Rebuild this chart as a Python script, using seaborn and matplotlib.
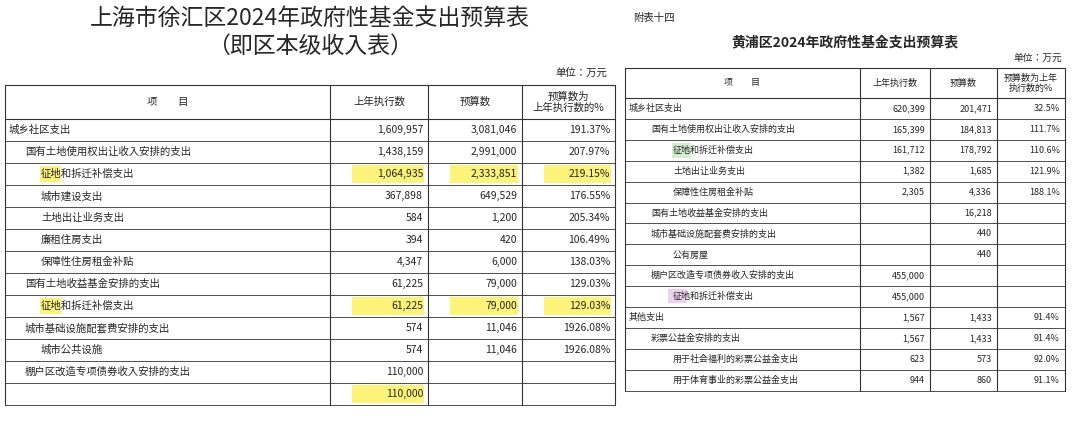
import matplotlib
matplotlib.use('Agg')
from matplotlib import pyplot as plt
from matplotlib import font_manager
from matplotlib.patches import Rectangle
import seaborn as sns

sns.set_theme(style='white')
_names = sorted({f.name for f in font_manager.fontManager.ttflist if 'CJK' in f.name})
plt.rcParams['font.family'] = ['Noto Sans CJK SC'] + _names + ['DejaVu Sans']

# left table: Xuhui
left_items = ['城乡社区支出', '国有土地使用权出让收入安排的支出', '征地和拆迁补偿支出', '城市建设支出',
              '土地出让业务支出', '廉租住房支出', '保障性住房租金补贴', '国有土地收益基金安排的支出',
              '征地和拆迁补偿支出', '城市基础设施配套费安排的支出', '城市公共设施',
              '棚户区改造专项债券收入安排的支出', '']
left_level = [0, 1, 2, 2, 2, 2, 2, 1, 2, 1, 2, 1, 2]
left_prev = ['1,609,957', '1,438,159', '1,064,935', '367,898', '584', '394', '4,347',
             '61,225', '61,225', '574', '574', '110,000', '110,000']
left_budget = ['3,081,046', '2,991,000', '2,333,851', '649,529', '1,200', '420', '6,000',
               '79,000', '79,000', '11,046', '11,046', '', '']
left_pct = ['191.37%', '207.97%', '219.15%', '176.55%', '205.34%', '106.49%', '138.03%',
            '129.03%', '129.03%', '1926.08%', '1926.08%', '', '']
left_hl = [2, 8]

# right table: Huangpu
right_items = ['城乡社区支出', '国有土地使用权出让收入安排的支出', '征地和拆迁补偿支出', '土地出让业务支出',
               '保障性住房租金补贴', '国有土地收益基金安排的支出', '城市基础设施配套费安排的支出', '公有房屋',
               '棚户区改造专项债券收入安排的支出', '征地和拆迁补偿支出', '其他支出', '彩票公益金安排的支出',
               '用于社会福利的彩票公益金支出', '用于体育事业的彩票公益金支出']
right_level = [0, 1, 2, 2, 2, 1, 1, 2, 1, 2, 0, 1, 2, 2]
right_prev = ['620,399', '165,399', '161,712', '1,382', '2,305', '', '', '', '455,000', '455,000',
              '1,567', '1,567', '623', '944']
right_budget = ['201,471', '184,813', '178,792', '1,685', '4,336', '16,218', '440', '440', '', '',
                '1,433', '1,433', '573', '860']
right_pct = ['32.5%', '111.7%', '110.6%', '121.9%', '188.1%', '', '', '', '', '',
             '91.4%', '91.4%', '92.0%', '91.1%']

fig = plt.figure(figsize=(10.8, 4.29), dpi=100)
ax = fig.add_axes([0, 0, 1, 1])
ax.set_xlim(0, 1080)
ax.set_ylim(429, 0)
ax.axis('off')

YELLOW = '#fdf27a'


def draw_table(cols, top, head_h, row_h, items, levels, prev, budget, pct,
               headers, fs, indent, hl_rows=(), hl_color=None, hl_w=0):
  n = len(items)
  bottom = top + head_h + row_h * n
  for x in cols:
    ax.plot([x, x], [top, bottom], color='#333', lw=0.8)
  ax.plot([cols[0], cols[-1]], [top, top], color='#333', lw=0.8)
  ax.plot([cols[0], cols[-1]], [top + head_h, top + head_h], color='#333', lw=0.8)
  for i in range(n):
    y = top + head_h + row_h * (i + 1)
    ax.plot([cols[0], cols[-1]], [y, y], color='#333', lw=0.6)
  for j, h in enumerate(headers):
    ax.text((cols[j] + cols[j + 1]) / 2, top + head_h / 2, h, ha='center', va='center',
            fontsize=fs, linespacing=1.1)
  for i in range(n):
    yc = top + head_h + row_h * (i + 0.5)
    x0 = cols[0] + 4 + indent * levels[i]
    if i in hl_rows and items[i] and hl_color[0]:
      ax.add_patch(Rectangle((x0 - 1, yc - row_h * 0.35), hl_w, row_h * 0.7,
                             color=hl_color[0], lw=0, zorder=0))
    ax.text(x0, yc, items[i], ha='left', va='center', fontsize=fs)
    for j, vals in enumerate([prev, budget, pct]):
      if i in hl_rows and vals[i] and hl_color[1]:
        ax.add_patch(Rectangle((cols[j + 1] + 22, yc - row_h * 0.4), cols[j + 2] - cols[j + 1] - 26,
                               row_h * 0.8, color=hl_color[1], lw=0, zorder=0))
      ax.text(cols[j + 2] - 5, yc, vals[i], ha='right', va='center', fontsize=fs)


draw_table([5, 330, 428, 522, 615], 85, 34, 22.0, left_items, left_level, left_prev,
           left_budget, left_pct, ['项　　目', '上年执行数', '预算数', '预算数为\n上年执行数的%'],
           7.5, 16, hl_rows=left_hl + [12], hl_color=(YELLOW, YELLOW), hl_w=21)
draw_table([625, 860, 930, 997, 1065], 68, 30, 20.9, right_items, right_level, right_prev,
           right_budget, right_pct, ['项　　目', '上年执行数', '预算数', '预算数为上年\n执行数的%'],
           6.5, 22, hl_rows=[2], hl_color=('#d6ecd2', None), hl_w=19)
# purple mark on second Huangpu 征地 row
ax.add_patch(Rectangle((668, 98 + 20.9 * 9 + 3), 19, 14, color='#ecd2ee', lw=0, zorder=0))

ax.text(310, 18, '上海市徐汇区2024年政府性基金支出预算表', ha='center', va='center', fontsize=16.5)
ax.text(310, 46, '（即区本级收入表）', ha='center', va='center', fontsize=16.5)
ax.text(607, 73, '单位：万元', ha='right', va='center', fontsize=7.5)
ax.text(633, 18, '附表十四', ha='left', va='center', fontsize=7.5)
ax.text(845, 42, '黄浦区2024年政府性基金支出预算表', ha='center', va='center', fontsize=10,
        fontweight='bold')
ax.text(1062, 58, '单位：万元', ha='right', va='center', fontsize=7)

fig.savefig('out.png', dpi=100)
plt.close('all')
